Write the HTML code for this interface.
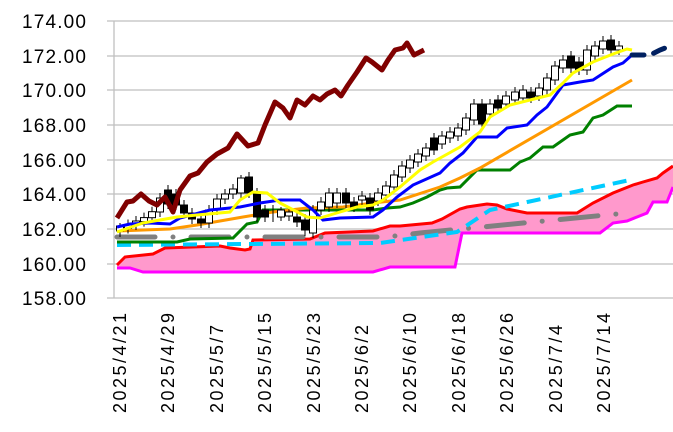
<!DOCTYPE html>
<html><head><meta charset="utf-8"><style>
html,body{margin:0;padding:0;background:#fff;}
svg{display:block;font-family:"Liberation Sans",Arial,sans-serif;}
</style></head><body>
<svg width="673" height="432" viewBox="0 0 673 432" xmlns="http://www.w3.org/2000/svg">
<g stroke="#bfbfbf" stroke-width="1.3">
<line x1="107" y1="21" x2="673" y2="21"/><line x1="107" y1="56" x2="673" y2="56"/>
<line x1="107" y1="90" x2="673" y2="90"/><line x1="107" y1="125" x2="673" y2="125"/>
<line x1="107" y1="160" x2="673" y2="160"/><line x1="107" y1="194" x2="673" y2="194"/>
<line x1="107" y1="229" x2="673" y2="229"/><line x1="107" y1="264" x2="673" y2="264"/>
<line x1="107" y1="298" x2="673" y2="298"/><line x1="114" y1="21" x2="114" y2="298"/>
</g>
<g font-size="19" text-anchor="end" fill="#000">
<text x="86" y="28" textLength="64">174.00</text><text x="86" y="63" textLength="64">172.00</text>
<text x="86" y="97" textLength="64">170.00</text><text x="86" y="132" textLength="64">168.00</text>
<text x="86" y="167" textLength="64">166.00</text><text x="86" y="201" textLength="64">164.00</text>
<text x="86" y="236" textLength="64">162.00</text><text x="86" y="271" textLength="64">160.00</text>
<text x="86" y="305" textLength="64">158.00</text>
</g>
<g font-size="18" fill="#000">
<text transform="translate(126,413) rotate(-90)" textLength="100">2025/4/21</text>
<text transform="translate(174,413) rotate(-90)" textLength="100">2025/4/29</text>
<text transform="translate(223,413) rotate(-90)" textLength="88">2025/5/7</text>
<text transform="translate(271,413) rotate(-90)" textLength="100">2025/5/15</text>
<text transform="translate(320,413) rotate(-90)" textLength="100">2025/5/23</text>
<text transform="translate(368,413) rotate(-90)" textLength="88">2025/6/2</text>
<text transform="translate(416,413) rotate(-90)" textLength="100">2025/6/10</text>
<text transform="translate(465,413) rotate(-90)" textLength="100">2025/6/18</text>
<text transform="translate(513,413) rotate(-90)" textLength="100">2025/6/26</text>
<text transform="translate(562,413) rotate(-90)" textLength="88">2025/7/4</text>
<text transform="translate(610,413) rotate(-90)" textLength="100">2025/7/14</text>
</g>
<polygon fill="#ff99cc" points="117,265 125,257 153,254 165,248 220,246 230,248 245,250 250,249 253,240 310,239 325,233 373,231 390,226 400,226 432,223 442,219 460,209 467,207 487,204 497,205 507,209 527,213 577,213 593,203 613,193 633,185 643,182 657,178 663,173 673,166 673,187 667,202 653,202 647,213 637,217 627,221 613,223 600,233 462,233 455,267 390,267 373,272 143,272 130,268 117,268"/>
<polyline fill="none" stroke="#ff00ff" stroke-width="3" points="117,268 130,268 143,272 373,272 390,267 455,267 462,233 600,233 613,223 627,221 637,217 647,213 653,202 667,202 673,187"/>
<polyline fill="none" stroke="#ff0000" stroke-width="3" points="117,265 125,257 153,254 165,248 220,246 230,248 245,250 250,249 253,240 310,239 325,233 373,231 390,226 400,226 432,223 442,219 460,209 467,207 487,204 497,205 507,209 527,213 577,213 593,203 613,193 633,185 643,182 657,178 663,173 673,166"/>
<polyline fill="none" stroke="#808080" stroke-width="5" stroke-linecap="round" stroke-dasharray="38,18,0,18" points="117,237 387,237 420,233 627,213"/>
<polyline fill="none" stroke="#00ccff" stroke-width="4" stroke-dasharray="14,8" points="117,245 380,243 457,232 490,210 630,180"/>
<polyline fill="none" stroke="#008000" stroke-width="3" points="117,242 177,242 190,239 233,238 247,224 257,222 263,210 373,210 387,208 400,207 413,203 427,197 440,190 447,188 460,187 477,170 510,170 520,162 530,158 543,147 553,147 570,135 583,132 593,118 603,115 617,106 632,106"/>
<polyline fill="none" stroke="#ff9900" stroke-width="3" points="117,231 170,229 197,225 243,217 273,212 307,208 343,207 373,203 400,200 440,187 460,178 480,168 632,80"/>
<g stroke="#000" stroke-width="1">
<path fill="none" d="M120 223V237M128 219.5V233.5M136 216V230M144 212.6V226.6M152 206.7V222.7M160 193V217M168 185V209M176 189V210M184 200V218M192 208V224M201 214V228M209 205V228M217 194V215M225 189V204M233 184V199M241 175V198M249 172V198M257 188V222M265 205V222M273 205V222M281 207V221M289 207V221M297 212V227M305 214V236M313 205V238M321 197V215M329 188V212M337 188V208M346 188V208M354 197V212M362 191V205M370 193V215M378 188V206M386 181V200M394 170V192M402 161V182M410 155V173M418 149V167M426 143V161M434 133V155M442 131V149M450 127V143M458 123V141M466 113V135M474 99V125M482 99V129M490 99V119M498 95V113M506 91V109M515 87V105M523 85V103M531 87V103M539 83V101M547 73V95M555 61V85M563 55V73M571 51V73M579 57V75M587 45V75M595 41V61M603 36V54M611 35V55M619 41V55"/>
<g fill="#fff">
<rect x="116.5" y="226" width="7" height="5"/><rect x="124.5" y="224.5" width="7" height="4"/><rect x="132.5" y="221" width="7" height="4"/><rect x="140.5" y="217.6" width="7" height="4"/><rect x="148.5" y="211.7" width="7" height="6"/><rect x="156.5" y="198" width="7" height="14"/>
<rect x="205.5" y="210" width="7" height="13"/><rect x="213.5" y="199" width="7" height="11"/><rect x="221.5" y="194" width="7" height="5"/><rect x="229.5" y="189" width="7" height="5"/><rect x="237.5" y="178" width="7" height="15"/>
<rect x="277.5" y="210" width="7" height="7"/><rect x="285.5" y="212" width="7" height="4"/><rect x="309.5" y="210" width="7" height="23"/><rect x="317.5" y="202" width="7" height="8"/><rect x="325.5" y="193" width="7" height="14"/><rect x="333.5" y="193" width="7" height="10"/><rect x="358.5" y="196" width="7" height="4"/><rect x="374.5" y="193" width="7" height="8"/><rect x="382.5" y="186" width="7" height="9"/><rect x="390.5" y="175" width="7" height="12"/><rect x="398.5" y="166" width="7" height="11"/><rect x="406.5" y="160" width="7" height="8"/><rect x="414.5" y="154" width="7" height="8"/><rect x="422.5" y="148" width="7" height="8"/>
<rect x="438.5" y="136" width="7" height="8"/><rect x="446.5" y="132" width="7" height="6"/><rect x="454.5" y="128" width="7" height="8"/><rect x="462.5" y="118" width="7" height="12"/><rect x="470.5" y="104" width="7" height="16"/><rect x="486.5" y="104" width="7" height="10"/><rect x="502.5" y="96" width="7" height="8"/><rect x="511.5" y="92" width="7" height="8"/><rect x="519.5" y="90" width="7" height="8"/><rect x="535.5" y="88" width="7" height="8"/><rect x="543.5" y="78" width="7" height="12"/><rect x="551.5" y="66" width="7" height="14"/><rect x="559.5" y="60" width="7" height="8"/><rect x="583.5" y="50" width="7" height="20"/><rect x="591.5" y="46" width="7" height="10"/><rect x="599.5" y="41" width="7" height="8"/><rect x="615.5" y="46" width="7" height="4"/>
</g>
<g fill="#000">
<rect x="164.5" y="190" width="7" height="14"/><rect x="172.5" y="194" width="7" height="11"/><rect x="180.5" y="205" width="7" height="8"/><rect x="188.5" y="213" width="7" height="6"/><rect x="197.5" y="219" width="7" height="4"/>
<rect x="245.5" y="177" width="7" height="16"/><rect x="253.5" y="193" width="7" height="24"/><rect x="261.5" y="210" width="7" height="7"/><rect x="293.5" y="217" width="7" height="5"/><rect x="301.5" y="220" width="7" height="10"/><rect x="342.5" y="193" width="7" height="10"/><rect x="350.5" y="202" width="7" height="5"/><rect x="366.5" y="198" width="7" height="12"/>
<rect x="430.5" y="138" width="7" height="12"/><rect x="478.5" y="104" width="7" height="20"/><rect x="494.5" y="100" width="7" height="8"/><rect x="527.5" y="92" width="7" height="6"/><rect x="567.5" y="56" width="7" height="12"/><rect x="575.5" y="62" width="7" height="8"/><rect x="607.5" y="40" width="7" height="10"/>
</g>
</g>
<polyline fill="none" stroke="#0000ff" stroke-width="3" points="117,227 130,224 150,223 170,224 180,218 210,210 240,207 260,203 280,200 300,200 313,210 323,220 340,218 373,217 383,210 397,197 413,185 440,173 450,163 463,153 477,137 497,137 507,128 527,125 537,115 547,107 563,85 580,82 593,80 613,67 623,63 632,55"/>
<polyline fill="none" stroke="#ffff00" stroke-width="3" points="117,232 143,223 177,217 197,215 230,212 240,200 253,192 267,193 280,203 307,217 320,218 340,212 357,207 373,205 383,200 400,187 420,170 433,162 460,147 480,132 490,117 510,105 530,100 550,95 563,83 573,73 593,62 613,54 627,49 632,50"/>
<polyline fill="none" stroke="#002060" stroke-width="5" stroke-linecap="round" stroke-dasharray="12,10" points="632,55 650,55 660,50 673,45"/>
<polyline fill="none" stroke="#800000" stroke-width="5" stroke-linejoin="round" points="117,218 127,202 133,201 141,194 149,201 157,205 165,197 173,212 180,190 190,176 198,173 207,162 217,154 228,148 237,134 248,146 258,143 265,125 275,102 283,108 290,118 297,100 305,105 313,96 320,100 327,94 335,90 341,96 348,85 357,72 366,58 372,62 382,70 388,60 395,50 403,48 407,43 414,55 424,50"/>
</svg>
</body></html>
